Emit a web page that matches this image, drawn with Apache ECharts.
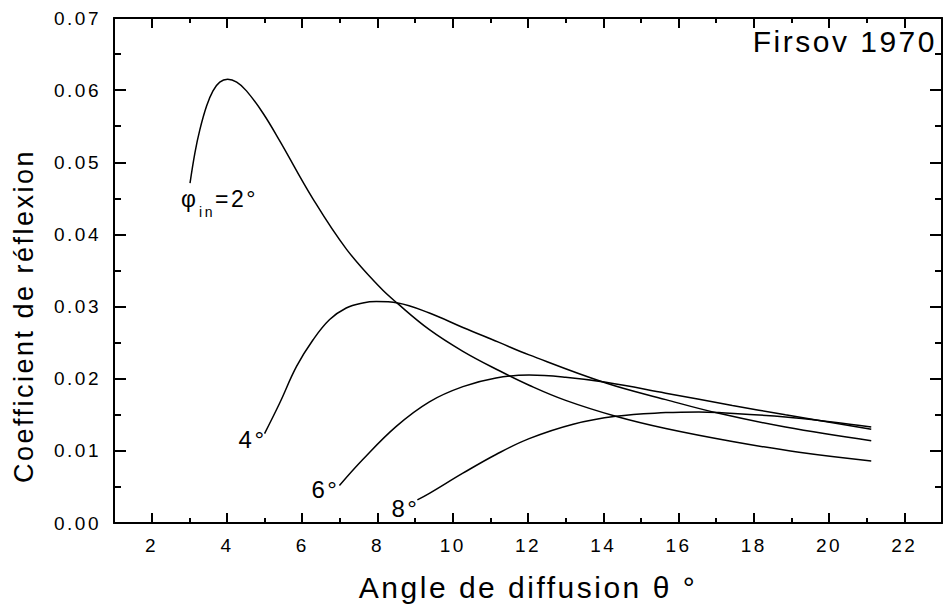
<!DOCTYPE html>
<html>
<head>
<meta charset="utf-8">
<script src="https://cdn.jsdelivr.net/npm/echarts@6/dist/echarts.min.js"></script>
<style>
html,body{margin:0;padding:0;background:#fff;}
#main{width:945px;height:608px;}
#main svg text{letter-spacing:2.5px;}
</style>
</head>
<body>
<div id="main"></div>
<script>
// ---- data ----
const xTicks = [2, 4, 6, 8, 10, 12, 14, 16, 18, 20, 22];
const xMinor = [3, 5, 7, 9, 11, 13, 15, 17, 19, 21];
const yTicks = [0, 0.01, 0.02, 0.03, 0.04, 0.05, 0.06, 0.07];
const yMinor = [0.005, 0.015, 0.025, 0.035, 0.045, 0.055, 0.065];

const phi2 = [[3.02,0.0471],[3.15,0.0513],[3.28,0.0545],[3.46,0.0578],[3.63,0.0599],[3.81,0.0611],[4.02,0.0615],[4.26,0.0611],[4.52,0.0599],[4.96,0.0568],[5.40,0.0530],[6.29,0.0449],[7.17,0.0380],[8.06,0.0327],[8.54,0.0304],[9.38,0.0268],[10.27,0.0238],[11.24,0.0211],[12.03,0.0191],[13.0,0.0170],[14.33,0.0148],[15.66,0.0131],[17.43,0.0113],[19.2,0.0098],[21.12,0.0086]];
const phi4 = [[5.0,0.0124],[5.40,0.0166],[5.85,0.0217],[6.29,0.0254],[6.73,0.0282],[7.17,0.0298],[7.61,0.0305],[7.97,0.0307],[8.54,0.0305],[9.38,0.0291],[10.27,0.0271],[11.2,0.0251],[12.03,0.0233],[14.07,0.0194],[15.66,0.0171],[17.07,0.0152],[18.84,0.0133],[21.12,0.0114]];
const phi6 = [[6.99,0.0052],[7.61,0.0088],[8.50,0.0134],[9.38,0.0168],[10.27,0.0189],[11.15,0.0201],[12.03,0.0205],[13.0,0.0202],[14.07,0.0195],[15.66,0.0180],[17.43,0.0163],[18.84,0.0150],[21.12,0.0130]];
const phi8 = [[9.06,0.0032],[9.38,0.0041],[10.27,0.0069],[11.15,0.0095],[12.03,0.0117],[13.2,0.0137],[14.33,0.0148],[15.66,0.0153],[16.54,0.0154],[17.07,0.0153],[18.84,0.0147],[20.08,0.0140],[21.12,0.0133]];
const seriesNames = ['φin=2°', '4°', '6°', '8°'];

// ---- chart ----
const FONT = '"Liberation Sans", Arial, Helvetica, sans-serif';
const chart = echarts.init(document.getElementById('main'), null, {renderer: 'svg'});

function xAx(position, ticks, len, withLine, withLabels) {
  return {
    type: 'value', position: position, min: 1, max: 23,
    axisLine: {show: withLine, onZero: false, lineStyle: {color: '#000', width: 2}},
    axisTick: {show: true, inside: true, length: len, customValues: ticks, lineStyle: {color: '#000', width: 2}},
    axisLabel: withLabels ? {show: true, customValues: xTicks, margin: 13, color: '#000', fontSize: 19, fontFamily: FONT} : {show: false},
    splitLine: {show: false}
  };
}
function yAx(position, ticks, len, withLine, withLabels) {
  return {
    type: 'value', position: position, min: 0, max: 0.07,
    axisLine: {show: withLine, onZero: false, lineStyle: {color: '#000', width: 2}},
    axisTick: {show: true, inside: true, length: len, customValues: ticks, lineStyle: {color: '#000', width: 2}},
    axisLabel: withLabels ? {show: true, customValues: yTicks, margin: 13, color: '#000', fontSize: 19, fontFamily: FONT,
      formatter: v => v.toFixed(2)} : {show: false},
    splitLine: {show: false}
  };
}

const datasets = [phi2, phi4, phi6, phi8];

chart.setOption({
  animation: false,
  backgroundColor: '#fff',
  grid: {left: 114, right: 3, top: 18, bottom: 85, containLabel: false},
  xAxis: [
    xAx('bottom', xTicks, 10, true, true),
    xAx('bottom', xMinor, 5, false, false),
    xAx('top', xTicks, 10, true, false),
    xAx('top', xMinor, 5, false, false)
  ],
  yAxis: [
    yAx('left', yTicks, 12, true, true),
    yAx('left', yMinor, 7, false, false),
    yAx('right', yTicks, 12, true, false),
    yAx('right', yMinor, 7, false, false)
  ],
  series: datasets.map((d, i) => ({
    name: seriesNames[i], type: 'line', xAxisIndex: 0, yAxisIndex: 0,
    data: d, showSymbol: false, symbol: 'none', smooth: 0.4,
    lineStyle: {color: '#000', width: 1.5}, silent: true
  }))
});

// ---- texts anchored to curve starts ----
function px(p) { return chart.convertToPixel({gridIndex: 0}, p); }
const a2 = px(phi2[0]), a4 = px(phi4[0]), a6 = px(phi6[0]), a8 = px(phi8[0]);
function txt(text, x, y, size, align) {
  return {type: 'text', x: x, y: y, silent: true,
    style: {text: text, font: size + 'px ' + FONT, fill: '#000',
      align: align, textAlign: align, verticalAlign: 'middle', textVerticalAlign: 'middle'}};
}
const g = [
  txt('φ', a2[0] - 9, a2[1] + 15.6, 23, 'left'),
  txt('in', a2[0] + 9, a2[1] + 28.7, 14, 'left'),
  txt('=2°', a2[0] + 25, a2[1] + 15.6, 23, 'left'),
  txt('4°', a4[0] + 2, a4[1] + 5.6, 24, 'right'),
  txt('6°', a6[0], a6[1] + 3.6, 24, 'right'),
  txt('8°', a8[0] + 2, a8[1] + 8.6, 24, 'right'),
  txt('Firsov 1970', 937, 41, 30, 'right'),
  txt('Angle de diffusion θ °', 528, 587.5, 30, 'center'),
  {type: 'text', x: 23.5, y: 316, rotation: Math.PI / 2, silent: true,
    style: {text: 'Coefficient de réflexion', font: '27px ' + FONT, fill: '#000',
      align: 'center', textAlign: 'center', verticalAlign: 'middle', textVerticalAlign: 'middle'}}
];
chart.setOption({graphic: g});
</script>
</body>
</html>
